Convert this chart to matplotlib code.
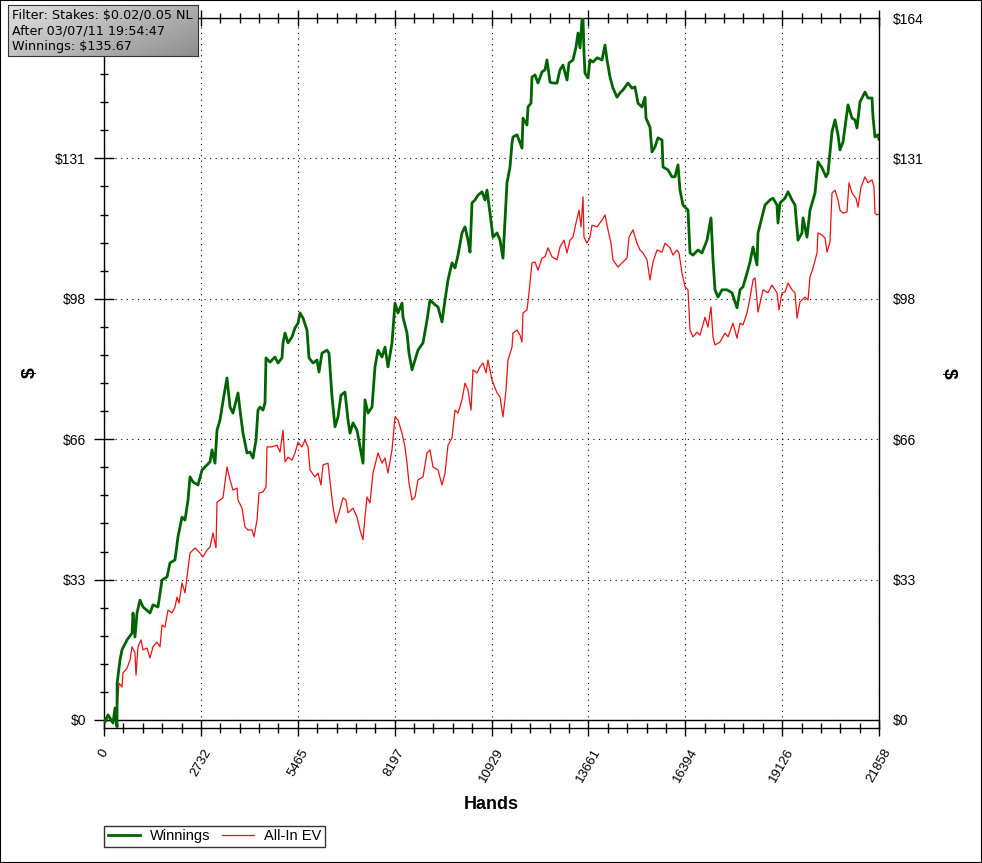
import numpy as np
import matplotlib
matplotlib.use("Agg")
import matplotlib.pyplot as plt
from matplotlib.ticker import MultipleLocator, FixedLocator
from matplotlib.patches import Rectangle

# Winnings (green)
win_hands = [0, 28, 113, 254, 310, 367, 370, 451, 508, 649, 790, 818, 874, 931, 1015, 1100, 1297, 1382,
             1523, 1636, 1777, 1861, 2002, 2087, 2200, 2285, 2369, 2426, 2510, 2651, 2764, 2905, 2990,
             3046, 3131, 3187, 3272, 3384, 3469, 3554, 3638, 3751, 3779, 3836, 3920, 4033, 4118, 4202,
             4287, 4343, 4400, 4484, 4541, 4569, 4682, 4823, 4908, 5020, 5049, 5105, 5190, 5302, 5387,
             5472, 5528, 5613, 5725, 5782, 5895, 6007, 6064, 6148, 6289, 6346, 6431, 6515, 6600, 6684,
             6797, 6882, 6938, 7023, 7136, 7220, 7305, 7361, 7446, 7559, 7643, 7728, 7841, 7925, 8010,
             8123, 8207, 8292, 8405, 8433, 8546, 8602, 8687, 8771, 8856, 8997, 9110, 9194, 9336, 9420,
             9533, 9618, 9702, 9815, 9900, 9984, 10097, 10182, 10266, 10323, 10379, 10464, 10548, 10661,
             10746, 10802, 10887, 10971, 11084, 11169, 11253, 11310, 11366, 11451, 11507, 11535, 11648,
             11705, 11789, 11817, 11930, 11958, 12043, 12071, 12156, 12240, 12353, 12438, 12494, 12579,
             12664, 12776, 12861, 12946, 13058, 13115, 13228, 13312, 13369, 13425, 13482, 13510, 13538,
             13566, 13651, 13707, 13792, 13905, 14046, 14130, 14187, 14271, 14356, 14469, 14553, 14638,
             14779, 14892, 14976, 15061, 15174, 15258, 15287, 15399, 15456, 15540, 15625, 15738, 15766,
             15907, 16020, 16104, 16189, 16245, 16330, 16471, 16528, 16612, 16753, 16866, 17007, 17120,
             17176, 17233, 17317, 17430, 17571, 17712, 17853, 17938, 18022, 18135, 18220, 18305, 18417,
             18446, 18558, 18643, 18784, 18868, 18981, 19009, 19066, 19207, 19292, 19404, 19489, 19574,
             19686, 19715, 19827, 19912, 20053, 20138, 20250, 20363, 20420, 20532, 20617, 20702, 20758,
             20843, 20984, 21097, 21181, 21237, 21322, 21463, 21548, 21661, 21689, 21745, 21830, 21858]
winnings = [0, -0.5, 1.2, -0.7, 2.8, -1.6, 8.6, 14.0, 16.4, 18.7, 20.3, 25.0, 19.4, 25.0, 28.0, 26.4, 25.0,
            26.9, 26.4, 32.7, 33.4, 36.7, 37.4, 42.8, 47.4, 46.7, 51.4, 56.8, 55.6, 54.9, 58.4, 59.6, 60.3,
            63.1, 60.0, 67.7, 70.1, 75.9, 79.9, 73.1, 71.7, 75.5, 76.4, 72.4, 67.0, 62.4, 62.6, 61.2, 65.4,
            72.4, 73.1, 72.4, 74.1, 84.6, 83.6, 84.8, 83.4, 84.6, 88.1, 90.4, 88.1, 89.5, 91.6, 92.7, 95.1,
            93.9, 91.1, 84.6, 83.4, 84.1, 81.3, 85.7, 86.4, 85.7, 75.5, 68.5, 70.8, 75.9, 76.6, 70.1, 67.0,
            69.4, 67.7, 63.8, 60.0, 74.8, 71.7, 73.1, 82.5, 86.4, 84.8, 87.1, 82.5, 88.1, 97.4, 95.1, 97.4,
            94.1, 90.4, 85.7, 81.8, 84.1, 86.4, 88.1, 93.4, 98.1, 97.0, 96.5, 93.0, 98.1, 102.8, 106.8,
            105.6, 108.6, 113.8, 115.2, 112.1, 109.3, 120.8, 121.5, 122.6, 123.4, 121.5, 123.8, 118.4,
            112.8, 113.8, 112.1, 107.9, 116.8, 125.5, 129.2, 134.8, 136.2, 136.7, 135.5, 133.6, 140.6,
            139.0, 143.2, 144.1, 150.2, 150.7, 148.8, 151.4, 151.9, 154.2, 149.0, 148.8, 148.8, 151.9,
            153.0, 149.5, 153.5, 154.2, 157.2, 160.5, 157.0, 163.6, 163.9, 155.8, 151.1, 150.0, 154.2,
            153.7, 154.7, 154.2, 157.7, 154.2, 150.2, 147.6, 145.5, 146.5, 147.2, 148.8, 147.6, 147.9,
            144.1, 143.2, 145.5, 140.6, 138.5, 132.7, 133.9, 136.0, 135.5, 129.2, 128.5, 126.9, 126.9,
            129.7, 123.8, 120.3, 119.1, 109.1, 108.6, 109.8, 109.1, 112.1, 117.3, 107.5, 100.5, 98.8,
            100.5, 100.5, 99.8, 96.3, 100.5, 101.2, 104.4, 107.0, 110.5, 106.3, 113.8, 117.5, 120.3,
            121.5, 121.9, 120.3, 116.1, 120.8, 121.9, 123.4, 121.5, 120.3, 112.1, 113.8, 117.3, 112.8,
            119.1, 123.1, 130.4, 129.0, 126.9, 127.8, 137.4, 140.2, 136.7, 133.2, 135.0, 143.7, 140.6,
            140.2, 138.3, 144.4, 146.7, 145.3, 145.3, 140.9, 136.2, 136.7, 135.67]

# All-In EV (red)
ev_hands = [0, 113, 254, 310, 360, 370, 423, 508, 536, 649, 733, 790, 874, 903, 959, 1044, 1100, 1213, 1297,
            1382, 1495, 1579, 1636, 1720, 1805, 1918, 2002, 2059, 2115, 2200, 2285, 2341, 2426, 2567,
            2708, 2792, 2905, 2990, 3074, 3159, 3187, 3272, 3356, 3469, 3554, 3638, 3751, 3779, 3892,
            3977, 4061, 4174, 4231, 4315, 4372, 4484, 4569, 4597, 4738, 4879, 4964, 5049, 5105, 5190,
            5302, 5387, 5472, 5584, 5669, 5754, 5810, 5951, 6036, 6120, 6177, 6318, 6402, 6459, 6543,
            6628, 6741, 6825, 6882, 7023, 7136, 7220, 7305, 7361, 7418, 7502, 7587, 7728, 7841, 7925,
            8010, 8123, 8207, 8292, 8405, 8489, 8546, 8602, 8687, 8771, 8856, 8997, 9110, 9194, 9279,
            9420, 9533, 9618, 9702, 9815, 9900, 9984, 10097, 10182, 10266, 10351, 10407, 10520, 10605,
            10689, 10774, 10830, 10943, 11084, 11169, 11253, 11338, 11394, 11507, 11535, 11648, 11733,
            11789, 11817, 11930, 11987, 12071, 12156, 12240, 12353, 12438, 12522, 12635, 12776, 12861,
            12974, 13058, 13143, 13228, 13312, 13397, 13453, 13510, 13538, 13623, 13707, 13764, 13905,
            14046, 14130, 14215, 14299, 14356, 14497, 14610, 14751, 14807, 14920, 15033, 15117, 15202,
            15315, 15399, 15484, 15597, 15738, 15822, 15963, 16048, 16161, 16217, 16302, 16387, 16471,
            16528, 16612, 16725, 16810, 16951, 17035, 17120, 17176, 17233, 17374, 17515, 17599, 17740,
            17853, 17938, 18022, 18135, 18220, 18305, 18361, 18446, 18587, 18727, 18840, 18981, 19038,
            19122, 19207, 19292, 19404, 19489, 19545, 19630, 19771, 19856, 19912, 19997, 20109, 20138,
            20250, 20335, 20391, 20476, 20532, 20617, 20702, 20758, 20843, 20955, 21012, 21097, 21209,
            21266, 21350, 21463, 21548, 21661, 21717, 21745, 21802, 21858]
allin_ev = [0, 1.0, -0.5, 2.0, -1.0, 3.0, 8.6, 7.7, 11.0, 12.1, 14.0, 17.1, 15.7, 10.5, 17.1, 18.7, 16.4,
            16.8, 14.5, 17.1, 18.2, 17.1, 22.2, 21.7, 25.7, 25.0, 26.4, 28.7, 27.3, 32.0, 29.7, 33.4, 39.0,
            40.2, 39.0, 38.1, 39.7, 40.4, 43.7, 40.2, 50.9, 51.4, 51.9, 59.1, 56.1, 53.7, 54.2, 51.4, 49.5,
            45.1, 44.4, 44.4, 42.8, 46.7, 53.0, 53.3, 54.4, 63.8, 63.8, 64.2, 62.6, 67.7, 60.3, 61.4, 60.7,
            62.4, 64.9, 63.8, 65.4, 63.8, 58.4, 56.8, 57.7, 54.9, 59.6, 60.0, 53.7, 49.8, 46.0, 48.4, 51.9,
            51.4, 48.4, 49.5, 47.4, 44.4, 42.1, 47.4, 52.1, 50.7, 57.7, 62.4, 60.0, 61.2, 57.7, 63.1, 70.8,
            70.1, 67.0, 63.8, 60.0, 55.4, 51.4, 52.1, 56.1, 56.8, 62.4, 63.1, 59.1, 58.4, 54.9, 57.7, 64.2,
            65.9, 72.4, 71.7, 74.8, 78.7, 77.1, 72.4, 81.8, 81.1, 82.5, 83.4, 81.1, 84.1, 79.4, 76.4, 75.5,
            70.8, 77.1, 84.1, 87.1, 90.4, 91.1, 89.9, 88.3, 95.1, 95.8, 99.8, 106.8, 107.0, 105.1, 107.9,
            108.2, 110.3, 108.2, 107.5, 110.5, 112.1, 109.1, 112.1, 112.8, 116.1, 119.1, 115.2, 122.2,
            112.8, 111.4, 112.8, 115.6, 115.2, 116.8, 118.0, 114.5, 111.4, 107.5, 105.8, 106.8, 107.9,
            112.8, 114.5, 111.4, 109.8, 109.1, 107.5, 102.8, 107.0, 109.8, 109.3, 111.4, 110.3, 108.6,
            109.8, 109.1, 104.4, 101.2, 100.5, 91.1, 89.5, 90.6, 89.9, 94.1, 91.8, 96.5, 89.5, 87.6, 88.3,
            90.4, 89.5, 92.7, 89.2, 92.7, 92.3, 95.1, 98.6, 102.8, 103.3, 95.3, 100.5, 99.8, 101.6, 99.8,
            95.8, 99.8, 100.0, 102.1, 100.5, 99.8, 93.9, 97.7, 98.8, 98.1, 103.5, 105.6, 109.1, 113.8,
            113.3, 112.6, 109.3, 111.7, 123.1, 123.8, 121.5, 119.1, 118.4, 118.7, 125.5, 123.1, 121.9,
            119.8, 124.5, 126.9, 125.5, 126.2, 124.5, 118.4, 118.0, 118.2]

x_ticks = np.linspace(0, 21858, 9)
x_labels = ["0", "2732", "5465", "8197", "10929", "13661", "16394", "19126", "21858"]
y_ticks = np.linspace(0, 164, 6)
y_labels = ["$0", "$33", "$66", "$98", "$131", "$164"]
info = ["Filter: Stakes: $0.02/0.05 NL", "After 03/07/11 19:54:47", "Winnings: $135.67"]

font = "Liberation Sans"
W, H = 982, 863
fig = plt.figure(figsize=(W / 100, H / 100), dpi=100)
ax = fig.add_axes([104 / W, 1 - 728 / H, 775 / W, 710 / H])

ax.plot(ev_hands, allin_ev, color="#ee1111", lw=0.9, label="All-In EV", zorder=3)
ax.plot(win_hands, winnings, color="#006400", lw=2.0, label="Winnings", zorder=4)
ax.axhline(0, color="black", lw=1.0, zorder=2)

ax.set_xlim(0, 21858)
ax.set_ylim(-1.87, 164)

ax.xaxis.set_major_locator(FixedLocator(x_ticks))
ax.set_xticklabels(x_labels)
ax.xaxis.set_minor_locator(MultipleLocator(21858 / 40))
ax.yaxis.set_major_locator(FixedLocator(y_ticks))
# the top-left label sits under the info box, as in the original
ax.set_yticklabels(y_labels[:-1] + [""])
ax.yaxis.set_minor_locator(MultipleLocator(164 / 25))

ax.grid(which="major", color="black", linestyle=(0, (1, 4)), lw=0.8)
for s in ax.spines.values():
    s.set_linewidth(1.0)
    s.set_color("black")

ax.tick_params(axis="x", which="major", direction="inout", length=11, width=1, pad=8,
               labelsize=9.5, top=True, labelrotation=60)
ax.tick_params(axis="x", which="minor", direction="inout", length=7, width=1, top=True)
ax.tick_params(axis="y", which="major", direction="inout", length=14, width=1, pad=6,
               labelsize=10, right=True)
ax.tick_params(axis="y", which="minor", direction="inout", length=6, width=1, right=True)
for lab in ax.get_xticklabels():
    lab.set_fontfamily(font)
    lab.set_ha("center")
    lab.set_va("top")
for lab in ax.get_yticklabels():
    lab.set_fontfamily(font)

# right-hand labels
ax2 = ax.twinx()
ax2.set_ylim(ax.get_ylim())
ax2.yaxis.set_major_locator(FixedLocator(y_ticks))
ax2.set_yticklabels(y_labels, fontsize=10, family=font)
ax2.tick_params(axis="y", length=0, pad=10)
ax2.yaxis.set_minor_locator(FixedLocator([]))
for s in ax2.spines.values():
    s.set_visible(False)

ax.set_xlabel("Hands", fontsize=13, fontweight="bold", family=font, labelpad=8)
fig.text(30 / W, 1 - 373 / H, "$", rotation=90, fontsize=14, fontweight="bold",
         family=font, ha="center", va="center")
fig.text(948 / W, 1 - 373 / H, "$", rotation=270, fontsize=14, fontweight="bold",
         family=font, ha="center", va="center")

# legend under the plot
handles, labels = ax.get_legend_handles_labels()
leg = fig.legend(handles[::-1], labels[::-1], loc="lower left",
                 bbox_to_anchor=(104 / W, 1 - 847 / H), ncol=2, frameon=True, fancybox=False,
                 edgecolor="black", borderaxespad=0, prop={"family": font, "size": 10.5},
                 handlelength=2.2, handletextpad=0.7, columnspacing=0.8, borderpad=0.25)
leg.get_frame().set_linewidth(1.0)

# info box in the corner
bax = fig.add_axes([8 / W, 1 - 56 / H, 190 / W, 51 / H])
gx, gy = np.meshgrid(np.linspace(0, 1, 100), np.linspace(0, 1, 30))
bax.imshow(0.88 - 0.2 * gx - 0.12 * gy, cmap="gray", vmin=0, vmax=1, aspect="auto",
           extent=(0, 1, 0, 1), origin="upper")
bax.set_xlim(0, 1)
bax.set_ylim(0, 1)
bax.set_xticks([])
bax.set_yticks([])
for s in bax.spines.values():
    s.set_color("#333333")
    s.set_linewidth(0.8)
bax.text(0.02, 0.5, "\n".join(info), fontsize=9.2, family="DejaVu Sans", va="center",
         ha="left", color="black", linespacing=1.25)

fig.patches.append(Rectangle((0, 0), 1, 1, transform=fig.transFigure, fill=False,
                             edgecolor="black", lw=1.5))

fig.savefig("out.png", dpi=100)
